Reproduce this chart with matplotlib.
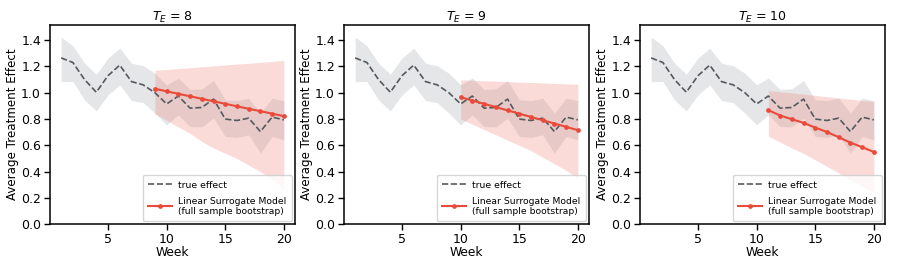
import numpy as np
import matplotlib
matplotlib.use("Agg")
import matplotlib.pyplot as plt

weeks = list(range(1, 21))
true_effect = [1.265, 1.23, 1.10, 1.004, 1.13, 1.21, 1.085, 1.06, 1.00, 0.915,
               0.975, 0.883, 0.888, 0.952, 0.80, 0.789, 0.807, 0.705, 0.815, 0.794]
true_upper = [1.423, 1.357, 1.225, 1.141, 1.263, 1.339, 1.225, 1.205, 1.149, 1.06,
              1.111, 1.025, 1.03, 1.093, 0.946, 0.94, 0.959, 0.845, 0.959, 0.94]
true_lower = [1.085, 1.085, 0.946, 0.862, 0.984, 1.06, 0.941, 0.925, 0.845, 0.756,
              0.832, 0.743, 0.74, 0.807, 0.667, 0.66, 0.68, 0.54, 0.667, 0.642]

te_values = [8, 9, 10]
model_mean = [
    [1.03, 1.011, 0.992, 0.973, 0.954, 0.935, 0.916, 0.897, 0.878, 0.86, 0.841, 0.822],
    [0.966, 0.941, 0.916, 0.891, 0.866, 0.841, 0.816, 0.791, 0.766, 0.741, 0.715],
    [0.868, 0.827, 0.799, 0.771, 0.735, 0.702, 0.662, 0.621, 0.586, 0.55],
]
model_upper = [
    [1.17, 1.177, 1.184, 1.19, 1.197, 1.204, 1.211, 1.218, 1.224, 1.231, 1.238, 1.245],
    [1.098, 1.095, 1.091, 1.088, 1.085, 1.081, 1.078, 1.075, 1.071, 1.068, 1.065],
    [1.017, 1.008, 0.999, 0.99, 0.98, 0.97, 0.96, 0.951, 0.942, 0.933],
]
model_lower = [
    [0.84, 0.79, 0.74, 0.69, 0.63, 0.58, 0.54, 0.50, 0.45, 0.40, 0.34, 0.27],
    [0.80, 0.76, 0.72, 0.68, 0.64, 0.60, 0.56, 0.51, 0.46, 0.41, 0.35],
    [0.67, 0.625, 0.58, 0.54, 0.49, 0.44, 0.39, 0.34, 0.29, 0.24],
]

fs = 9
plt.rcParams['font.family'] = ['DejaVu Sans']
fig = plt.figure(figsize=(8.97, 2.76), dpi=100)
lefts = [50, 344, 640]
W, H = 897.0, 276.0
red = '#ea4a3a'
for i, te in enumerate(te_values):
    ax = fig.add_axes([lefts[i] / W, (H - 224.3) / H, 245 / W, (224.3 - 25) / H])
    ax.fill_between(weeks, true_lower, true_upper, color='#bcc1c7', alpha=0.4, linewidth=0)
    ax.plot(weeks, true_effect, linestyle='--', color='#555a5f', linewidth=1.2, label='true effect')
    mw = list(range(te + 1, 21))
    ax.fill_between(mw, model_lower[i], model_upper[i], color='#f08a80', alpha=0.3, linewidth=0)
    ax.plot(mw, model_mean[i], color=red, linewidth=1.5, marker='o', markersize=2.4,
            label='Linear Surrogate Model\n(full sample bootstrap)')
    ax.set_xlim(0.05, 20.95)
    ax.set_ylim(0, 1.515)
    ax.set_xticks([5, 10, 15, 20])
    ax.set_yticks([0.0, 0.2, 0.4, 0.6, 0.8, 1.0, 1.2, 1.4])
    ax.set_yticklabels(['0.0', '0.2', '0.4', '0.6', '0.8', '1.0', '1.2', '1.4'])
    ax.tick_params(labelsize=fs, length=4.5, width=1.0, pad=2)
    for s in ax.spines.values():
        s.set_linewidth(1.1)
    ax.set_xlabel('Week', fontsize=8.8, labelpad=0)
    ax.set_ylabel('Average Treatment Effect', fontsize=8.6, labelpad=1.5)
    ax.set_title(r'$T_E$ = %d' % te, fontsize=9, pad=1.5)
    ax.legend(loc='lower right', fontsize=6.7, frameon=True, framealpha=0.8,
              borderpad=0.55, handlelength=2.6, handletextpad=0.7,
              labelspacing=0.75, borderaxespad=0.35, fancybox=True)

fig.savefig('out.png', dpi=100)
